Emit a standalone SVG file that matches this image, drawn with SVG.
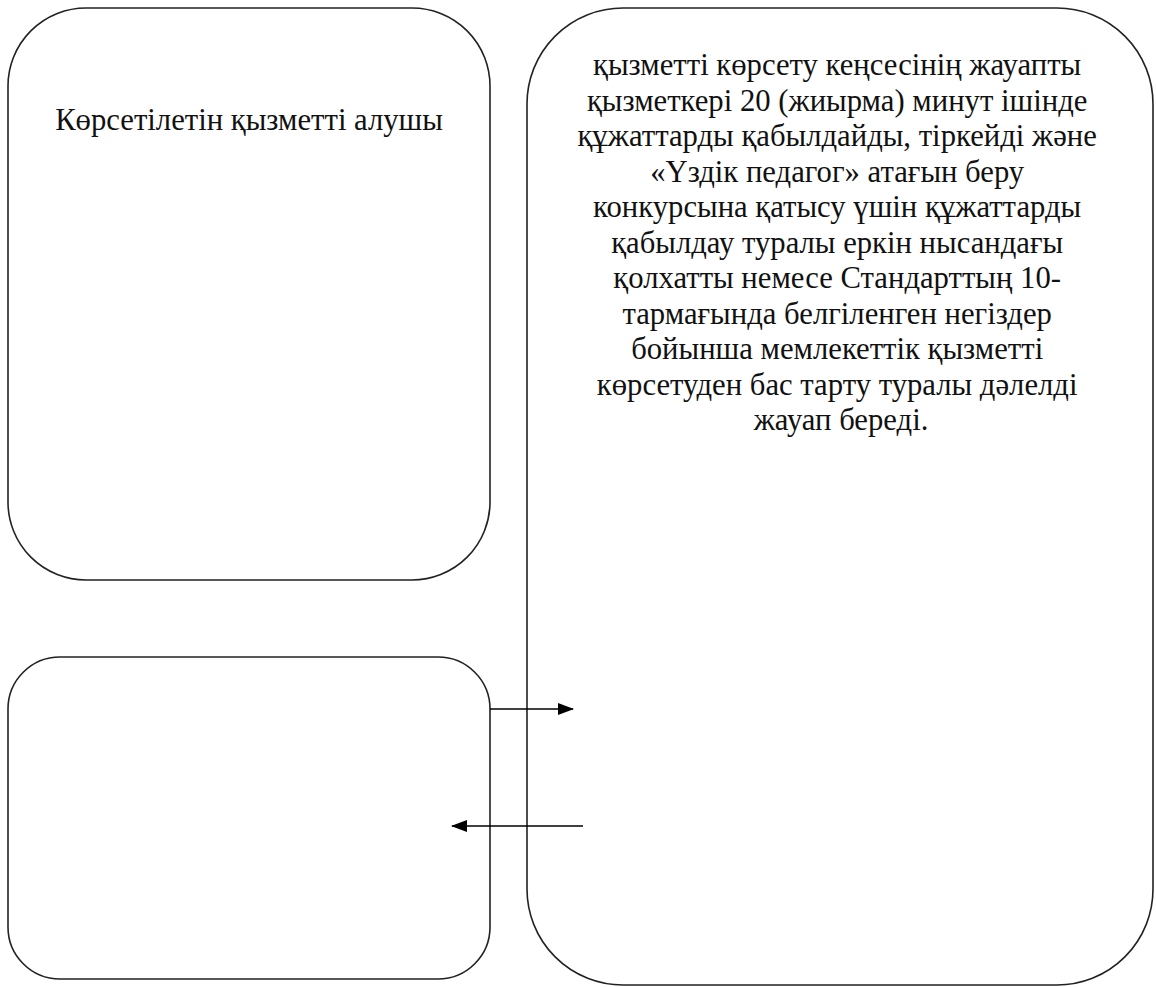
<svg xmlns="http://www.w3.org/2000/svg" width="1156" height="987" viewBox="0 0 1156 987">
<defs>
<style>
.box{fill:none;stroke:#222;stroke-width:1.6}
.ln{stroke:#000;stroke-width:1.4;fill:none}
.t{font-family:"Liberation Serif","DejaVu Serif",serif;font-size:30.7px;fill:#111;text-anchor:middle}
</style>
<marker id="ah" markerWidth="16" markerHeight="12" refX="15" refY="6" orient="auto" markerUnits="userSpaceOnUse">
<path d="M0,0 L16,6 L0,12 Z" fill="#000"/>
</marker>
</defs>
<rect width="1156" height="987" fill="#fff"/>
<g id="node-recipient">
<rect class="box" x="8" y="8" width="482" height="572" rx="78" ry="78"/>
<text class="t" x="249" y="130">Көрсетілетін қызметті алушы</text>
</g>
<g id="node-recipient-2">
<rect class="box" x="8" y="657" width="482" height="322" rx="52" ry="52"/>
</g>
<g id="node-office">
<rect class="box" x="527" y="8" width="626" height="977" rx="96" ry="96"/>
<text class="t">
<tspan x="841" y="75">қызметті көрсету кеңсесінің жауапты</tspan>
<tspan x="841" y="110.5">қызметкері 20 (жиырма) минут ішінде</tspan>
<tspan x="841" y="146">құжаттарды қабылдайды, тіркейді және</tspan>
<tspan x="841" y="181.5">«Үздік педагог» атағын беру</tspan>
<tspan x="841" y="217">конкурсына қатысу үшін құжаттарды</tspan>
<tspan x="841" y="252.5">қабылдау туралы еркін нысандағы</tspan>
<tspan x="841" y="288">қолхатты немесе Стандарттың 10-</tspan>
<tspan x="841" y="323.5">тармағында белгіленген негіздер</tspan>
<tspan x="841" y="359">бойынша мемлекеттік қызметті</tspan>
<tspan x="841" y="394.5">көрсетуден бас тарту туралы дәлелді</tspan>
<tspan x="841" y="430">жауап береді.</tspan>
</text>
</g>
<g id="connectors">
<line class="ln" x1="490" y1="709" x2="573" y2="709" marker-end="url(#ah)"/>
<line class="ln" x1="583" y1="826" x2="452" y2="826" marker-end="url(#ah)"/>
</g>
</svg>
